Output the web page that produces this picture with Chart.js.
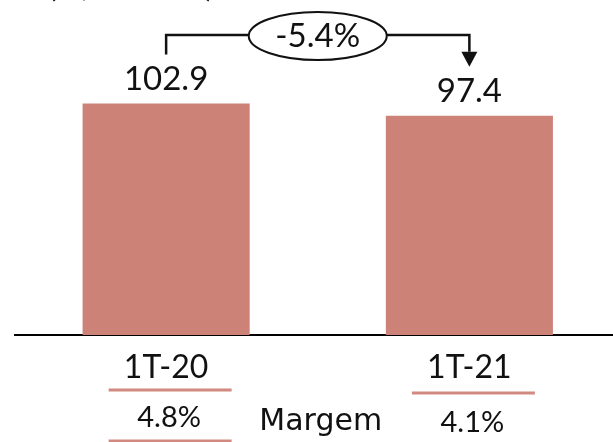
<!DOCTYPE html>
<html>
<head>
<meta charset="utf-8">
<script src="https://cdn.jsdelivr.net/npm/chart.js@4.4.1/dist/chart.umd.min.js"></script>
<style>
  html, body { margin: 0; padding: 0; background: #fff; overflow: hidden; }
  #wrap { width: 621px; height: 442px; }
</style>
</head>
<body>
<div id="wrap"><canvas id="receitaChart" width="621" height="442"></canvas></div>
<script>
const categories = ['1T-20', '1T-21'];
const values = [102.9, 97.4];
const margins = ['4.8%', '4.1%'];
const marginLabel = 'Margem';
const changeLabel = '-5.4%';
const unitLabel = '(R$ milhões)';

const barColor = '#cd8278';
const lineColor = '#d28a80';
const textColor = '#111';
const numFont = 'Lato, "Open Sans", sans-serif';
const numWeight = '400';

// small per-column nudges for the table under the axis
const underlineOffset = [55, 58];
const marginOffset = [82.5, 88];

const annotations = {
    id: 'annotations',
    afterDatasetsDraw(chart) {
        const ctx = chart.ctx;
        const bars = chart.getDatasetMeta(0).data;
        const bottom = chart.chartArea.bottom;

        ctx.save();
        ctx.fillStyle = textColor;
        ctx.strokeStyle = textColor;

        // unit title, cut off by the top edge
        ctx.textAlign = 'left';
        ctx.textBaseline = 'alphabetic';
        ctx.font = numWeight + ' 31px ' + numFont;
        ctx.fillText(unitLabel, 48, -3);

        // values on top of the bars
        ctx.textAlign = 'center';
        ctx.textBaseline = 'middle';
        ctx.font = numWeight + ' 33px ' + numFont;
        bars.forEach((bar, i) => {
            ctx.fillText(values[i].toFixed(1), bar.x, bar.y - 24);
        });

        // change bracket with ellipse
        const x0 = bars[0].x;
        const x1 = bars[1].x;
        const midX = (x0 + x1) / 2;
        const lineY = 35;
        const rx = 69, ry = 24;
        ctx.lineWidth = 2.5;
        ctx.beginPath();
        ctx.moveTo(x0, bars[0].y - 49);
        ctx.lineTo(x0, lineY);
        ctx.lineTo(midX - rx, lineY);
        ctx.moveTo(midX + rx, lineY);
        ctx.lineTo(x1, lineY);
        ctx.lineTo(x1, bars[1].y - 64);
        ctx.stroke();

        ctx.beginPath();
        ctx.moveTo(x1 - 8, bars[1].y - 64);
        ctx.lineTo(x1 + 8, bars[1].y - 64);
        ctx.lineTo(x1, bars[1].y - 49);
        ctx.closePath();
        ctx.fill();

        ctx.lineWidth = 2;
        ctx.beginPath();
        ctx.ellipse(midX, lineY + 1, rx, ry, 0, 0, Math.PI * 2);
        ctx.stroke();

        ctx.font = numWeight + ' 33px ' + numFont;
        ctx.fillText(changeLabel, midX, lineY + 1);

        // margin table below the axis
        ctx.strokeStyle = lineColor;
        ctx.lineWidth = 3;
        bars.forEach((bar, i) => {
            const cx = bar.x + 4;
            ctx.beginPath();
            ctx.moveTo(cx - 61.5, bottom + underlineOffset[i]);
            ctx.lineTo(cx + 61.5, bottom + underlineOffset[i]);
            ctx.stroke();
            ctx.font = numWeight + ' 29px ' + numFont;
            ctx.fillText(margins[i], bar.x + 3, bottom + marginOffset[i]);
        });
        ctx.beginPath();
        ctx.moveTo(bars[0].x + 4 - 61.5, 441);
        ctx.lineTo(bars[0].x + 4 + 61.5, 441);
        ctx.stroke();

        ctx.font = '30px "DejaVu Sans", sans-serif';
        ctx.textBaseline = 'alphabetic';
        ctx.fillText(marginLabel, midX + 3, bottom + 95);

        ctx.restore();
    }
};

new Chart(document.getElementById('receitaChart'), {
    type: 'bar',
    data: {
        labels: categories,
        datasets: [{
            data: values,
            backgroundColor: barColor,
            borderWidth: 0,
            barPercentage: 0.551,
            categoryPercentage: 1
        }]
    },
    options: {
        responsive: false,
        animation: false,
        layout: {
            padding: { top: 20, left: 14.5, right: 0, bottom: 42.6 }
        },
        plugins: {
            legend: { display: false },
            tooltip: { enabled: false }
        },
        scales: {
            x: {
                grid: { display: false, drawTicks: false },
                border: { display: true, color: '#000', width: 2 },
                ticks: {
                    color: textColor,
                    padding: 13,
                    font: { family: numFont, size: 32, weight: numWeight, lineHeight: 1.2 }
                }
            },
            y: {
                display: false,
                min: 0,
                max: 140
            }
        }
    },
    plugins: [annotations]
});
</script>
</body>
</html>
